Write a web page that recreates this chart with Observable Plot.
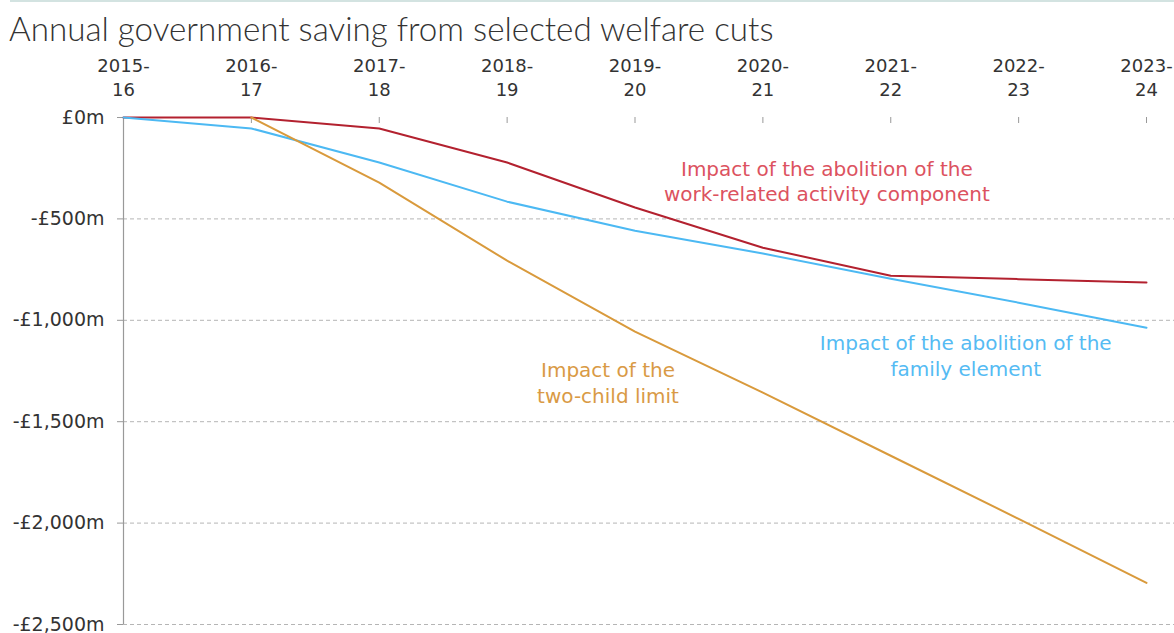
<!DOCTYPE html>
<html>
<head>
<meta charset="utf-8">
<script src="https://cdn.jsdelivr.net/npm/d3@7"></script>
<script src="https://cdn.jsdelivr.net/npm/@observablehq/plot@0.6"></script>
<style>
  html, body { margin: 0; padding: 0; background: #fff; width: 1174px; height: 633px; overflow: hidden; }
  #topline { position: absolute; left: 10px; right: 0; top: 0; height: 0; border-top: 2px solid #d3e3e1; }
  #title { position: absolute; left: 9px; top: 9px; font-family: Lato, sans-serif; font-weight: 300; font-size: 33.2px; color: #333; line-height: 38px; white-space: nowrap; }
  #chart { position: absolute; left: 0; top: 48px; }
</style>
</head>
<body>
<div id="topline"></div>
<div id="title">Annual government saving from selected welfare cuts</div>
<div id="chart"></div>
<script>
const years = ["2015-16","2016-17","2017-18","2018-19","2019-20","2020-21","2021-22","2022-23","2023-24"];
const yearLabels = ["2015-\n16","2016-\n17","2017-\n18","2018-\n19","2019-\n20","2020-\n21","2021-\n22","2022-\n23","2023-\n24"];
const workRelated = [0, 0, -54, -222, -444, -642, -780, -797, -814];
const familyElement = [0, -54, -222, -415, -558, -671, -795, -913, -1037];
const twoChild = [null, 0, -321, -706, -1056, -1357, -1668, -1979, -2295];
const yTicks = [0, -500, -1000, -1500, -2000, -2500];

const seriesColors = {work: "#b3212f", family: "#4cb9f3", twochild: "#d99a3c"};
const textColors = {work: "#dc5260", family: "#55bbf3", twochild: "#d99a45"};

const rows = [];
years.forEach((yr, i) => {
  rows.push({year: yr, value: workRelated[i], s: "work"});
  rows.push({year: yr, value: familyElement[i], s: "family"});
  if (twoChild[i] !== null) rows.push({year: yr, value: twoChild[i], s: "twochild"});
});

const annotations = [
  {s: "work", year: "2020-21", value: -311, dx: 64, text: "Impact of the abolition of the\nwork-related activity component"},
  {s: "family", year: "2021-22", value: -1170, dx: 75, text: "Impact of the abolition of the\nfamily element"},
  {s: "twochild", year: "2019-20", value: -1303, dx: -27, text: "Impact of the\ntwo-child limit"}
];

const fmt = d => d === 0 ? "£0m" : "-£" + d3.format(",")(-d) + "m";
const labelOf = Object.fromEntries(years.map((y, i) => [y, yearLabels[i]]));
const font = "'DejaVu Sans', sans-serif";

const plot = Plot.plot({
  width: 1174,
  height: 585,
  marginTop: 69,
  marginBottom: 9,
  marginLeft: 123,
  marginRight: 0,
  style: {fontFamily: font, background: "transparent", overflow: "visible"},
  x: {type: "point", domain: years, range: [123, 1146], padding: 0, round: false, axis: null},
  y: {domain: [-2500, 0], axis: null},
  marks: [
    Plot.ruleY(yTicks.filter(d => d !== 0), {stroke: "#b5b5b5", strokeDasharray: "4,3", strokeWidth: 1}),
    Plot.axisY({ticks: yTicks, tickFormat: fmt, tickSize: 6, tickPadding: 13, fontSize: 19, color: "#333", stroke: "#999", anchor: "left", label: null}),
    Plot.ruleX([years[0]], {x: d => d, y1: 0, y2: -2500, stroke: "#999", strokeWidth: 1.2}),
    Plot.ruleY([0], {x1: years[0], x2: years[years.length - 1], stroke: "#999", strokeWidth: 1.2}),
    Plot.ruleX(years, {x: d => d, y1: 0, y2: 0, insetBottom: -6, stroke: "#999", strokeWidth: 1}),
    Plot.axisX({anchor: "top", tickSize: 0, tickPadding: 22, tickFormat: d => labelOf[d], fontSize: 18, lineHeight: 1.28, color: "#333", label: null}),
    Plot.line(rows, {x: "year", y: "value", z: "s", stroke: d => seriesColors[d.s], strokeWidth: 2, curve: "linear"}),
    ...annotations.map(a => Plot.text([a], {x: "year", y: "value", dx: a.dx, text: "text", fill: textColors[a.s], fontSize: 20, lineHeight: 1.27, textAnchor: "middle"}))
  ]
});
document.getElementById("chart").appendChild(plot);
</script>
</body>
</html>
